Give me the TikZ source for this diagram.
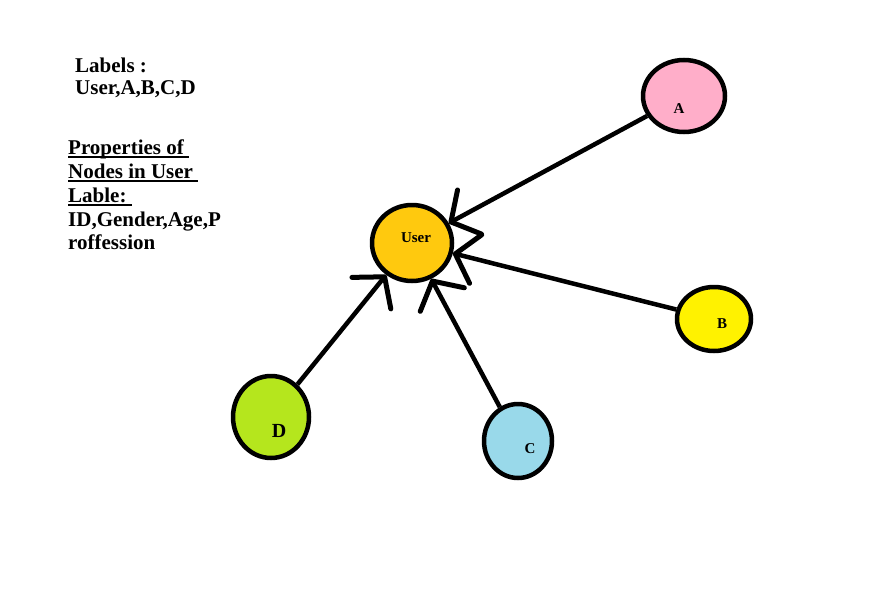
\documentclass[tikz,border=0pt]{standalone}
\usepackage{fontspec}
\setmainfont{Liberation Serif}
\newsavebox{\myulbox}
\newcommand{\myul}[1]{\sbox{\myulbox}{#1}\rlap{\usebox{\myulbox}}\rule[-4pt]{\wd\myulbox}{2pt}}
\usetikzlibrary{shapes.geometric,arrows.meta}
\definecolor{userfill}{RGB}{255,201,14}
\definecolor{afill}{RGB}{255,174,201}
\definecolor{bfill}{RGB}{255,242,0}
\definecolor{cfill}{RGB}{153,217,234}
\definecolor{dfill}{RGB}{181,230,29}
\tikzset{
  circ/.style={ellipse, draw=black, line width=4.5pt, inner sep=0pt},
  conn/.style={line width=4.5pt, -{Straight Barb[length=21pt,width=50pt,line width=5pt,round=false]}},
  side/.style={anchor=base west, inner sep=0pt, font=\bfseries\fontsize{21}{24}\selectfont},
  inlabel/.style={anchor=base, inner sep=0pt, font=\bfseries\fontsize{15}{18}\selectfont}
}
\begin{document}
\begin{tikzpicture}[x=1pt,y=-1pt]
\useasboundingbox[fill=white] (0,0) rectangle (894,613);
% side texts
\node[side] (t1) at (75,72) {Labels :};
\node[side] (t2) at (75,94) {User,A,B,C,D};
\node[side] (t3) at (68,154) {\myul{Properties of\ }};
\node[side] (t4) at (68,178) {\myul{Nodes in User\ }};
\node[side] (t5) at (68,202) {\myul{Lable:\ }};
\node[side] (t6) at (68,226) {ID,Gender,Age,P};
\node[side] (t7) at (68,249) {roffession};
% nodes
\node[circ, fill=userfill, minimum width=80pt, minimum height=76pt] (User) at (412,243) {};
\node[circ, fill=afill, minimum width=82pt, minimum height=72pt] (A) at (684,96) {};
\node[circ, fill=bfill, minimum width=74pt, minimum height=64pt] (B) at (714,319) {};
\node[circ, fill=cfill, minimum width=68pt, minimum height=74pt] (C) at (518,441) {};
\node[circ, fill=dfill, minimum width=76pt, minimum height=82pt] (D) at (271,417) {};
% node texts
\node[inlabel] (lu) at (416,242) {User};
\node[inlabel] (la) at (679,113) {A};
\node[inlabel] (lb) at (722,328) {B};
\node[inlabel] (lc) at (530,453) {C};
\node[inlabel, font=\bfseries\fontsize{20}{24}\selectfont] (ld) at (279,437) {D};
% connectors
\draw[conn] (A) -- (User);
\draw[conn] (B) -- (User);
\draw[conn] (C) -- (User);
\draw[conn] (D) -- (User);
\end{tikzpicture}
\end{document}
